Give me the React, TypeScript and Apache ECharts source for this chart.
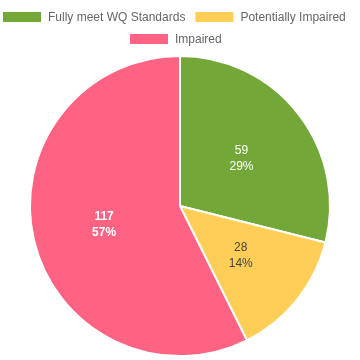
import React, { useEffect, useRef } from "react";
import * as echarts from "echarts";

const categories = ["Fully meet WQ Standards", "Potentially Impaired", "Impaired"];
const values = [59, 28, 117];
const colors = ["#73a839", "#ffce56", "#ff6384"];
const labelColors = ["#ffffff", "#444444", "#ffffff"];
const labelWeights = ["normal", "normal", "bold"];

export default function App() {
  const ref = useRef<HTMLDivElement>(null);
  useEffect(() => {
    const chart = echarts.init(ref.current!, null, { renderer: "svg" });
    const font = "Helvetica Neue, Helvetica, Arial, Liberation Sans, sans-serif";
    const legendCommon = {
      orient: "horizontal",
      itemWidth: 40,
      itemHeight: 12,
      itemGap: 8,
      padding: 0,
      icon: "rect",
      selectedMode: false,
      textStyle: { fontSize: 12, color: "#666", fontFamily: font, padding: [0, 0, 0, 1] },
    };
    chart.setOption({
      animation: false,
      color: colors,
      legend: [
        { ...legendCommon, left: 1, top: 10, data: categories.slice(0, 2) },
        { ...legendCommon, left: 128, top: 32, data: categories.slice(2) },
      ],
      series: [
        {
          type: "pie",
          center: [180, 206],
          radius: 150,
          startAngle: 90,
          clockwise: true,
          percentPrecision: 0,
          itemStyle: { borderColor: "#fff", borderWidth: 2 },
          label: {
            position: "inside",
            fontFamily: font,
            fontSize: 12,
            lineHeight: 16,
            formatter: "{c}\n{d}%",
          },
          labelLine: { show: false },
          emphasis: { disabled: true },
          data: categories.map((name, i) => ({
            name,
            value: values[i],
            label: { color: labelColors[i], fontWeight: labelWeights[i] },
          })),
        },
      ],
    });
    return () => chart.dispose();
  }, []);
  return (
    <div
      ref={ref}
      style={{ position: "fixed", left: 0, top: 0, width: 360, height: 360 }}
    />
  );
}
